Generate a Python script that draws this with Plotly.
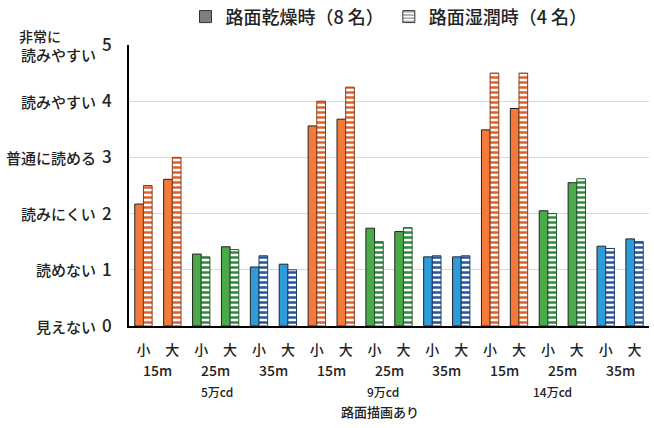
import plotly.graph_objects as go

# ---- data ----
sizes = ["小", "大"] * 9
distances = ["15m", "25m", "35m"] * 3
intensities = ["5万cd", "9万cd", "14万cd"]
group_title = "路面描画あり"
dry = [2.17, 2.61, 1.28, 1.41, 1.05, 1.10,
       3.56, 3.68, 1.74, 1.68, 1.23, 1.23,
       3.49, 3.87, 2.05, 2.55, 1.42, 1.55]
wet = [2.50, 3.00, 1.23, 1.36, 1.25, 1.00,
       4.00, 4.25, 1.50, 1.75, 1.25, 1.25,
       4.50, 4.50, 2.00, 2.62, 1.38, 1.50]
dry_name = "路面乾燥時（8 名）"
wet_name = "路面湿潤時（4 名）"
y_levels = [0, 1, 2, 3, 4, 5]
y_words = ["見えない", "読めない", "読みにくい", "普通に読める", "読みやすい", "読みやすい"]
y_top_prefix = "非常に"

# ---- styles ----
dist_fill = {"15m": "#F37A3B", "25m": "#4AAA4A", "35m": "#2E9CDA"}
dist_dark = {"15m": "#E0602A", "25m": "#2E8A3C", "35m": "#22569E"}
dist_line = {"15m": "#8A3A18", "25m": "#1F5A28", "35m": "#1A3C70"}

x = list(range(len(sizes)))
cat_dist = [distances[i // 2] for i in x]
dry_colors = [dist_fill[d] for d in cat_dist]
wet_fg = [dist_dark[d] for d in cat_dist]
wet_line = [dist_line[d] for d in cat_dist]

FONT = "Noto Sans CJK JP"
W = 500
TXT = "#222"

fig = go.Figure()

# legend-only entries (gray)
fig.add_trace(go.Bar(x=[0], y=[None], name=dry_name, offsetgroup="a",
                     marker=dict(color="#7f7f7f", line=dict(color="#333333", width=1))))
fig.add_trace(go.Bar(x=[0], y=[None], name=wet_name, offsetgroup="b",
                     marker=dict(color="white", line=dict(color="#333333", width=1),
                                 pattern=dict(shape="-", fgcolor="#555555", bgcolor="white",
                                              size=4, solidity=0.5))))

fig.add_trace(go.Bar(x=x, y=dry, offsetgroup="a", showlegend=False, name=dry_name,
                     marker=dict(color=dry_colors, line=dict(color="#222222", width=1))))
fig.add_trace(go.Bar(x=x, y=wet, offsetgroup="b", showlegend=False, name=wet_name,
                     marker=dict(color="white", line=dict(color=wet_line, width=1),
                                 pattern=dict(shape="-", fgcolor=wet_fg, bgcolor="white",
                                              size=5, solidity=0.5, fillmode="replace"))))

annotations = []
# distance labels
for i, d in enumerate(distances):
    annotations.append(dict(x=2 * i + 0.5, y=0, xref="x", yref="paper", text=d,
                            showarrow=False, yshift=-44, yanchor="middle",
                            font=dict(family=FONT, size=14, color=TXT, weight=W)))
# intensity labels
shifts = [1, -6, -10]
for i, t in enumerate(intensities):
    annotations.append(dict(x=6 * i + 2.5, y=0, xref="x", yref="paper", text=t,
                            showarrow=False, yshift=-65, xshift=shifts[i], yanchor="middle",
                            font=dict(family=FONT, size=12, color=TXT, weight=W)))
annotations.append(dict(x=8.5, y=0, xref="x", yref="paper", text=group_title,
                        showarrow=False, yshift=-85, xshift=-9, yanchor="middle",
                        font=dict(family=FONT, size=13, color=TXT, weight=W)))
# y descriptors
for lv, w in zip(y_levels, y_words):
    ys = -9 if lv == 5 else 0
    annotations.append(dict(x=0, y=lv, xref="paper", yref="y", text=w, showarrow=False,
                            xanchor="right", yanchor="middle", xshift=-31, yshift=ys,
                            font=dict(family=FONT, size=15, color=TXT, weight=W)))
annotations.append(dict(x=0, y=5, xref="paper", yref="y", text=y_top_prefix, showarrow=False,
                        xanchor="left", yanchor="middle", xshift=-112, yshift=9,
                        font=dict(family=FONT, size=14, color=TXT, weight=W)))

fig.update_layout(
    width=654, height=428,
    margin=dict(l=129, r=5, t=45, b=102, autoexpand=False),
    paper_bgcolor="white", plot_bgcolor="white",
    barmode="group", bargap=0.4, bargroupgap=0,
    font=dict(family=FONT, color=TXT, weight=W),
    legend=dict(orientation="h", x=0.5, xanchor="center", y=1.1, yanchor="middle",
                font=dict(family=FONT, size=18, color=TXT, weight=W), itemwidth=30,
                traceorder="normal"),
    annotations=annotations,
    xaxis=dict(range=[-0.5, len(sizes) - 0.5], tickmode="array", tickvals=x, ticktext=sizes,
               tickfont=dict(family=FONT, size=14, color=TXT, weight=W), ticks="",
               ticklabelstandoff=10,
               showline=True, linecolor="black", linewidth=2, showgrid=False, zeroline=False),
    yaxis=dict(range=[0, 5], tickvals=y_levels,
               tickfont=dict(family=FONT, size=17, color=TXT, weight=W),
               ticks="", ticklabelstandoff=12,
               showline=True, linecolor="black", linewidth=2,
               showgrid=True, gridcolor="#d9d9d9", gridwidth=1, zeroline=False),
)

fig.write_html("out.html", config={"displayModeBar": False},
               post_script="document.body.style.margin='0';document.body.style.padding='0';")
